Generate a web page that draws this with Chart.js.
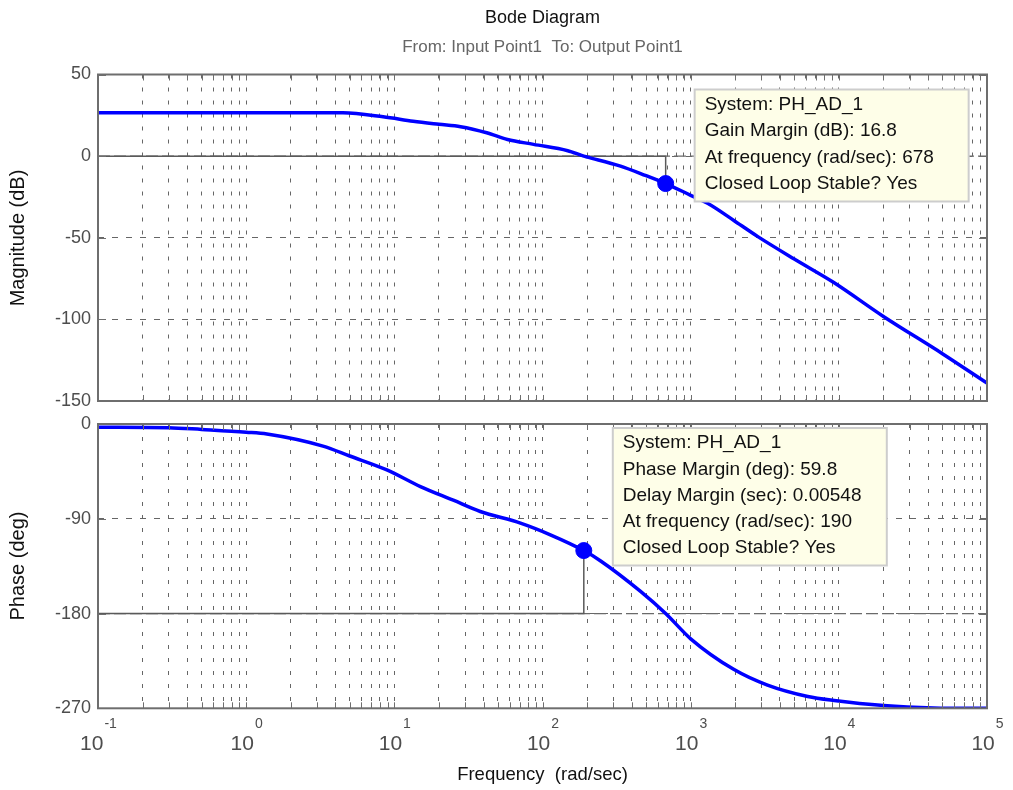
<!DOCTYPE html>
<html>
<head>
<meta charset="utf-8">
<script src="https://cdn.jsdelivr.net/npm/chart.js@4.4.1/dist/chart.umd.min.js"></script>
<style>
  body { margin: 0; background: #fff; }
  #wrap { position: relative; width: 1013px; height: 790px; }
  canvas { position: absolute; left: 0; }
</style>
</head>
<body>
<div id="wrap">
  <canvas id="magChart" width="1013" height="430" style="top:0"></canvas>
  <canvas id="phaseChart" width="1013" height="400" style="top:390px"></canvas>
</div>
<script>
// --- data ---
var magFreq = [0.1, 0.5, 1, 2, 4.5, 8.4, 13.4, 20, 28, 42, 58, 87, 148, 190, 201, 336, 500, 678, 1000, 1300, 2000, 2840, 5000, 9250, 20000, 50000, 100000];
var magDb   = [26.6, 26.6, 26.6, 26.6, 26.5, 24.1, 21.4, 19.5, 18.0, 14.3, 10.2, 7.2, 3.3, 0, -0.6, -6.1, -12.0, -16.8, -24.0, -28.9, -40.0, -49.3, -63.0, -77.4, -98.2, -121, -139];

var phaseFreq = [0.1, 0.3, 0.5, 1, 1.38, 3.3, 5, 8.9, 15, 25, 38, 71, 113, 190, 247, 459, 678, 1000, 1950, 3300, 6170, 9300, 20000, 43600, 100000];
var phaseDeg  = [-3, -3.5, -5.2, -7.8, -9.5, -21, -30.4, -43.6, -59.4, -72.4, -83.1, -94.1, -105.2, -120.2, -130.1, -159, -180, -204, -233, -248, -258.8, -262.6, -267.4, -269.6, -270];

var magTicks = [50, 0, -50, -100, -150];
var phaseTicks = [0, -90, -180, -270];
var decades = [-1, 0, 1, 2, 3, 4, 5];

var gainMargin = { freq: 678, value: -16.8, ref: 0 };
var phaseMargin = { freq: 190, value: -120.2, ref: -180 };

var gmText = ['System: PH_AD_1', 'Gain Margin (dB): 16.8', 'At frequency (rad/sec): 678', 'Closed Loop Stable? Yes'];
var pmText = ['System: PH_AD_1', 'Phase Margin (deg): 59.8', 'Delay Margin (sec): 0.00548', 'At frequency (rad/sec): 190', 'Closed Loop Stable? Yes'];

var FONT = '"Liberation Sans", Arial, Helvetica, sans-serif';
var GRID = '#666666';
var FRAME = '#6e6e6e';

function pts(xs, ys) {
    return xs.map(function (x, i) { return { x: x, y: ys[i] }; });
}

function allLogTicks() {
    var t = [];
    for (var k = -1; k < 5; k++) {
        for (var m = 1; m < 10; m++) t.push({ value: m * Math.pow(10, k) });
    }
    t.push({ value: 1e5 });
    return t;
}

function xAxis() {
    return {
        type: 'logarithmic', min: 0.1, max: 1e5,
        ticks: { display: false },
        grid: { color: GRID, lineWidth: 1, drawTicks: false },
        border: { display: false, dash: [4, 9] },
        afterBuildTicks: function (s) { s.ticks = allLogTicks(); },
        afterFit: function (s) { s.height = 0; s.paddingLeft = 0; s.paddingRight = 0; }
    };
}

function yAxis(min, max, ticks) {
    return {
        type: 'linear', min: min, max: max,
        ticks: { color: '#4d4d4d', font: { family: FONT, size: 18 }, padding: 7 },
        grid: { color: GRID, lineWidth: 1, drawTicks: false },
        border: { display: false, dash: [6, 8] },
        afterBuildTicks: function (s) { s.ticks = ticks.map(function (v) { return { value: v }; }); },
        afterFit: function (s) { s.width = 98; s.paddingTop = 0; s.paddingBottom = 0; }
    };
}

function marginSets(curve, m) {
    return [
        { data: [pts([m.freq], [m.value])[0]], showLine: false, pointRadius: 8, pointBackgroundColor: '#0000ff', pointBorderColor: '#0000ff' },
        { data: curve, borderColor: '#0000ff', borderWidth: 3.5, pointRadius: 0, cubicInterpolationMode: 'monotone' },
        { data: pts([0.1, m.freq, m.freq], [m.ref, m.ref, m.value]), borderColor: '#5a5a5a', borderWidth: 1.5, pointRadius: 0 },
        { data: pts([0.1, 1e5], [m.ref, m.ref]), borderColor: '#6a6a6a', borderWidth: 1.2, borderDash: [12, 4], pointRadius: 0 }
    ];
}

var decor = {
    id: 'decor',
    afterDatasetsDraw: function (chart, args, o) {
        var ctx = chart.ctx, a = chart.chartArea, xs = chart.scales.x, ys = chart.scales.y;
        ctx.save();
        // inner tick marks
        ctx.strokeStyle = FRAME;
        ctx.lineWidth = 1;
        ctx.beginPath();
        xs.ticks.forEach(function (t) {
            var px = Math.round(xs.getPixelForValue(t.value)) + 0.5;
            ctx.moveTo(px, a.top); ctx.lineTo(px, a.top + 6);
            ctx.moveTo(px, a.bottom); ctx.lineTo(px, a.bottom - 6);
        });
        ys.ticks.forEach(function (t) {
            var py = Math.round(ys.getPixelForValue(t.value)) + 0.5;
            ctx.moveTo(a.left, py); ctx.lineTo(a.left + 8, py);
            ctx.moveTo(a.right, py); ctx.lineTo(a.right - 8, py);
        });
        ctx.stroke();
        // frame
        ctx.lineWidth = 2;
        ctx.strokeRect(a.left, a.top, a.right - a.left, a.bottom - a.top);

        // data tip box
        var tip = o.tip;
        var bx = xs.getPixelForValue(tip.freq) + 29;
        var by = a.top + tip.dy;
        var bh = tip.lines.length * tip.step + 6;
        ctx.fillStyle = '#fefee8';
        ctx.fillRect(bx, by, 274, bh);
        ctx.strokeStyle = '#cdcdcd';
        ctx.lineWidth = 2;
        ctx.strokeRect(bx, by, 274, bh);
        ctx.fillStyle = '#111';
        ctx.font = '19px ' + FONT;
        ctx.textAlign = 'left';
        ctx.textBaseline = 'middle';
        tip.lines.forEach(function (s, i) {
            ctx.fillText(s, bx + 10, by + 15 + i * tip.step);
        });
        ctx.restore();
    },
    afterDraw: function (chart, args, o) {
        var ctx = chart.ctx, a = chart.chartArea, xs = chart.scales.x;
        var cx = (a.left + a.right) / 2;
        ctx.save();
        (o.texts || []).forEach(function (t) {
            ctx.font = t.size + 'px ' + FONT;
            ctx.fillStyle = t.color;
            ctx.textAlign = 'center';
            ctx.textBaseline = 'middle';
            ctx.save();
            if (t.rot) {
                ctx.translate(t.x, t.y);
                ctx.rotate(-Math.PI / 2);
                ctx.fillText(t.text, 0, 0);
            } else {
                ctx.fillText(t.text, t.x === undefined ? cx : t.x, t.y);
            }
            ctx.restore();
        });
        if (o.xLabels) {
            ctx.fillStyle = '#4d4d4d';
            ctx.textBaseline = 'alphabetic';
            ctx.textAlign = 'left';
            decades.forEach(function (k) {
                var px = xs.getPixelForValue(Math.pow(10, k));
                var base = '10', exp = String(k);
                ctx.font = '21px ' + FONT;
                var wb = ctx.measureText(base).width;
                ctx.font = '14px ' + FONT;
                var we = ctx.measureText(exp).width;
                var x0 = px - (wb + we) / 2;
                ctx.font = '21px ' + FONT;
                ctx.fillText(base, x0, a.bottom + 42);
                ctx.font = '14px ' + FONT;
                ctx.fillText(exp, x0 + wb + 1, a.bottom + 20);
            });
        }
        ctx.restore();
    }
};

function makeChart(id, curve, m, yMin, yMax, yTicks, pad, decorOpts) {
    return new Chart(document.getElementById(id), {
        type: 'line',
        data: { datasets: marginSets(curve, m) },
        options: {
            responsive: false,
            animation: false,
            layout: { padding: pad },
            plugins: { legend: { display: false }, tooltip: { enabled: false }, decor: decorOpts },
            scales: { x: xAxis(), y: yAxis(yMin, yMax, yTicks) }
        },
        plugins: [decor]
    });
}

makeChart('magChart', pts(magFreq, magDb), gainMargin, -150, 50, magTicks,
    { top: 74.5, bottom: 29, left: 0, right: 26 },
    {
        tip: { freq: gainMargin.freq, dy: 15, step: 26.5, lines: gmText },
        texts: [
            { text: 'Bode Diagram', size: 18, color: '#111', y: 18 },
            { text: 'From: Input Point1  To: Output Point1', size: 17, color: '#666', y: 47 },
            { text: 'Magnitude (dB)', size: 20, color: '#111', x: 18, y: 238, rot: true }
        ]
    });

makeChart('phaseChart', pts(phaseFreq, phaseDeg), phaseMargin, -270, 0, phaseTicks,
    { top: 34, bottom: 81.7, left: 0, right: 26 },
    {
        tip: { freq: phaseMargin.freq, dy: 4, step: 26.3, lines: pmText },
        xLabels: true,
        texts: [
            { text: 'Phase (deg)', size: 20, color: '#111', x: 18, y: 176, rot: true },
            { text: 'Frequency  (rad/sec)', size: 18.5, color: '#111', y: 385 }
        ]
    });
</script>
</body>
</html>
